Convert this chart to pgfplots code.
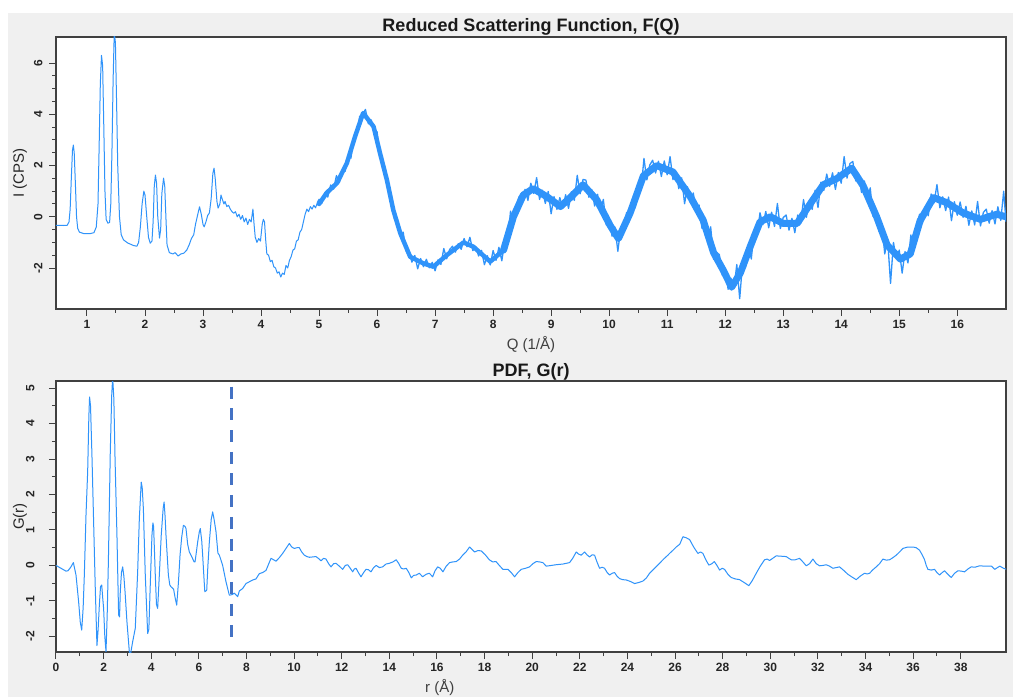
\documentclass[border=0pt]{standalone}
\usepackage{fontspec}
\setmainfont{Liberation Sans}
\usepackage{pgfplots}
\pgfplotsset{compat=1.18}
\definecolor{bg}{HTML}{F0F0F0}
\definecolor{curve}{HTML}{2F93FA}
\definecolor{dashc}{HTML}{4472C4}
\definecolor{framec}{HTML}{404040}
\pgfplotsset{
  pdfstyle/.style={
    scale only axis, width=950pt,
    axis background/.style={fill=white},
    axis line style={framec, line width=1.2pt},
    tick style={framec, line width=1pt},
    tick align=outside, xtick pos=bottom, ytick pos=left,
    major tick length=7pt, minor tick length=4pt,
    tick label style={font=\fontsize{12}{14}\selectfont\bfseries, text=black!85},
    /pgf/number format/assume math mode=true,
    yticklabel style={rotate=90, anchor=south},
    xticklabel shift=1pt,
    title style={font=\fontsize{18}{21}\selectfont\bfseries, text=black!90, at={(0.5,1)}, anchor=base, yshift=-1pt},
    xlabel style={font=\fontsize{15}{17}\selectfont, text=black!75, anchor=base},
    ylabel style={font=\fontsize{15}{17}\selectfont, text=black!85, at={(axis description cs:-0.038,0.5)}, anchor=center},
  }
}
\begin{document}
\begin{tikzpicture}[x=1pt,y=1pt]
\useasboundingbox (0,0) rectangle (1013,697);
\fill[bg] (8,0) rectangle (1013,684);
\begin{axis}[pdfstyle, at={(56pt,388pt)}, anchor=south west, height=272pt,
  xmin=0.466, xmax=16.84, ymin=-3.6, ymax=7.02,
  xtick={1,...,16}, minor x tick num=1,
  ytick={-2,0,2,4,6}, minor y tick num=3,
  yticklabel shift=3pt,
  title={Reduced Scattering Function, F(Q)},
  xlabel={Q (1/Å)}, xlabel style={at={(axis description cs:0.5,0)}, yshift=-41pt},
  ylabel={I (CPS)}]
% clean low-Q part
\addplot[curve, line width=1pt, line join=round] coordinates {
(0.46,-0.33) (0.60,-0.34) (0.66,-0.33) (0.69,-0.2) (0.71,0.3) (0.73,1.5) (0.75,2.6) (0.765,2.8) (0.78,2.5) (0.80,1.3) (0.82,0.0) (0.84,-0.45) (0.87,-0.6) (0.95,-0.66) (1.05,-0.66) (1.12,-0.62) (1.16,-0.4) (1.19,0.5) (1.21,2.8) (1.23,5.2) (1.25,6.3) (1.27,5.9) (1.29,3.5) (1.31,1.0) (1.33,-0.1) (1.36,-0.25) (1.39,-0.22) (1.41,0.5) (1.43,2.5) (1.45,5.3) (1.47,7.2) (1.49,6.8) (1.51,4.5) (1.53,2.0) (1.56,0.0) (1.59,-0.7) (1.63,-0.9) (1.70,-1.02) (1.80,-1.12) (1.86,-1.15) (1.89,-1.0) (1.92,-0.4) (1.95,0.5) (1.98,1.0) (2.00,0.85) (2.03,0.0) (2.06,-0.8) (2.09,-1.03) (2.12,-0.95) (2.14,-0.2) (2.16,1.2) (2.18,1.63) (2.20,1.3) (2.22,0.0) (2.25,-0.83) (2.27,-0.5) (2.29,0.9) (2.32,1.51) (2.34,1.2) (2.36,0.0) (2.38,-1.1) (2.42,-1.4) (2.48,-1.45) (2.52,-1.4) (2.57,-1.53) (2.62,-1.45) (2.67,-1.42) (2.72,-1.3) (2.76,-1.1) (2.80,-0.85) (2.84,-0.7) (2.87,-0.3) (2.91,0.1) (2.94,0.39) (2.97,0.1) (3.00,-0.3) (3.02,-0.39) (3.05,-0.2) (3.08,0.05) (3.11,0.15) (3.14,0.7) (3.17,1.7) (3.19,1.9) (3.21,1.5) (3.24,0.6) (3.26,0.34) (3.29,0.5) (3.31,0.85) (3.33,0.7) (3.36,0.5) (3.38,0.6) (3.41,0.4) (3.44,0.45) (3.47,0.3) (3.50,0.2) (3.53,0.14) (3.56,0.2) (3.59,0.0) (3.62,0.1) (3.65,-0.1) (3.68,0.05) (3.71,-0.2) (3.74,-0.05) (3.77,-0.3) (3.80,-0.1) (3.83,-0.2) (3.86,0.3) (3.88,-0.3) (3.90,-0.8) (3.93,-1.0) (3.96,-0.85) (3.99,-0.95) (4.02,-0.3) (4.04,-0.1) (4.06,-0.2) (4.08,-0.9) (4.10,-1.45) (4.13,-1.5) (4.16,-1.75) (4.19,-1.7) (4.22,-1.95) (4.25,-2.0) (4.28,-2.2) (4.31,-2.15) (4.34,-2.35) (4.37,-2.2) (4.40,-2.25) (4.43,-1.9) (4.46,-2.0) (4.49,-1.7) (4.52,-1.55) (4.55,-1.3) (4.58,-1.25) (4.61,-0.95) (4.64,-0.9) (4.67,-0.6) (4.70,-0.5) (4.73,-0.2) (4.76,0.1) (4.79,0.3) (4.82,0.2) (4.85,0.4) (4.88,0.3) (4.91,0.45) (4.94,0.35) (4.97,0.55)
};
% centre of the dense noise band
\addplot[curve, line width=4.5pt, line join=round, line cap=round] coordinates {
(5.0,0.5) (5.13,0.93) (5.31,1.32) (5.48,2.1) (5.62,3.13) (5.76,4.05) (5.94,3.52) (6.05,2.49) (6.17,1.43) (6.28,0.26) (6.40,-0.64) (6.57,-1.56) (6.79,-1.81) (6.97,-1.95) (7.2,-1.5) (7.49,-1.0) (7.66,-1.17) (7.95,-1.75) (8.18,-1.3)
};
\addplot[curve, line width=7pt, line join=round, line cap=round] coordinates {
(8.18,-1.3) (8.35,0.0) (8.52,0.85) (8.69,1.1) (8.93,0.78) (9.16,0.4) (9.33,0.75) (9.55,1.25) (9.79,0.65) (10.02,-0.35) (10.16,-0.85) (10.36,0.14) (10.59,1.6) (10.82,2.0) (11.1,1.75) (11.4,0.78) (11.62,-0.13) (11.8,-1.4) (11.97,-2.1) (12.11,-2.75) (12.26,-2.2) (12.43,-1.17) (12.6,-0.2) (12.78,0.0) (13.0,-0.26) (13.24,-0.26) (13.47,0.52) (13.69,1.25) (13.93,1.5) (14.18,1.9) (14.38,1.2) (14.61,0.0) (14.79,-1.1) (15.02,-1.65) (15.19,-1.45) (15.36,-0.15) (15.59,0.75) (15.82,0.55) (16.1,0.15) (16.4,-0.1) (16.68,0.1) (16.84,0.0)
};
% noisy signal
\addplot[curve, line width=1.3pt, line join=round] coordinates {
(4.97,0.55) (5.00,0.68) (5.05,0.53) (5.10,0.94) (5.15,0.77) (5.20,1.24) (5.25,1.08) (5.30,1.61) (5.35,1.34) (5.40,1.82) (5.45,1.78) (5.50,2.39) (5.55,2.29) (5.60,3.11) (5.65,3.22) (5.70,3.92) (5.75,4.01) (5.80,4.19) (5.85,3.63) (5.90,3.78) (5.95,3.27) (6.00,3.32) (6.05,2.35) (6.10,2.18) (6.15,1.79) (6.20,0.97) (6.25,0.69) (6.30,-0.09) (6.35,-0.10) (6.40,-0.75) (6.45,-0.60) (6.50,-1.34) (6.55,-1.36) (6.60,-1.77) (6.65,-1.51) (6.70,-2.03) (6.75,-1.63) (6.80,-1.95) (6.85,-1.66) (6.90,-1.99) (6.95,-1.78) (7.00,-2.11) (7.05,-1.68) (7.10,-1.86) (7.15,-1.24) (7.20,-1.64) (7.25,-1.28) (7.30,-1.15) (7.35,-1.38) (7.40,-1.05) (7.45,-1.27) (7.50,-0.85) (7.55,-1.17) (7.60,-0.80) (7.65,-1.32) (7.70,-1.16) (7.75,-1.53) (7.80,-1.31) (7.85,-1.87) (7.90,-1.52) (7.95,-1.88)
(8.00,-1.32) (8.05,-1.70) (8.10,-1.19) (8.15,-1.72) (8.20,-0.97) (8.25,-1.03) (8.30,0.22) (8.35,-0.24) (8.40,0.46) (8.45,0.80) (8.50,0.51) (8.55,1.07) (8.60,0.64) (8.65,1.31) (8.70,0.91) (8.75,1.53) (8.80,0.68) (8.85,1.04) (8.90,0.52) (8.95,0.99) (9.00,0.12) (9.05,0.79) (9.10,0.29) (9.15,0.75) (9.20,0.33) (9.25,0.86) (9.30,0.33) (9.35,0.98) (9.40,0.64) (9.45,1.62) (9.50,0.90) (9.55,1.46) (9.60,1.43) (9.65,0.76) (9.70,1.06) (9.75,0.42) (9.80,0.88) (9.85,0.21) (9.90,0.68) (9.95,-0.32) (10.00,-0.11) (10.05,-0.76) (10.10,-0.40) (10.15,-1.35) (10.20,-0.44) (10.25,-0.61) (10.30,0.17) (10.35,-0.06) (10.40,0.66) (10.45,0.35) (10.50,1.21) (10.55,1.05) (10.60,2.28) (10.65,1.44) (10.70,2.02) (10.75,2.21) (10.80,1.71) (10.85,2.17) (10.90,1.57) (10.95,2.18) (11.00,1.64) (11.05,2.35) (11.10,1.45) (11.15,1.76) (11.20,1.10) (11.25,1.52) (11.30,0.51) (11.35,1.17) (11.40,0.55) (11.45,0.93) (11.50,0.20) (11.55,0.46) (11.60,-0.45) (11.65,-0.14) (11.70,-0.99) (11.75,-0.39) (11.80,-1.66) (11.85,-1.38) (11.90,-1.48) (11.95,-2.28) (12.00,-2.04) (12.05,-2.83) (12.10,-2.40) (12.15,-2.80) (12.20,-1.86) (12.25,-3.20) (12.30,-1.79) (12.35,-1.98) (12.40,-1.09) (12.45,-1.65) (12.50,-0.54) (12.55,-0.72) (12.60,0.16) (12.65,-0.31) (12.70,0.21) (12.75,-0.43) (12.80,0.18) (12.85,-0.38) (12.90,0.52) (12.95,-0.46) (13.00,-0.03) (13.05,0.07) (13.10,-0.52) (13.15,-0.06) (13.20,-0.62) (13.25,0.07) (13.30,-0.26) (13.35,0.67) (13.40,-0.02) (13.45,0.62) (13.50,0.29) (13.55,1.04) (13.60,0.36) (13.65,1.35) (13.70,1.03) (13.75,1.67) (13.80,1.19) (13.85,1.72) (13.90,1.07) (13.95,1.73) (14.00,1.31) (14.05,2.35) (14.10,1.51) (14.15,2.08) (14.20,2.16) (14.25,1.40) (14.30,1.68) (14.35,0.95) (14.40,1.40) (14.45,0.63) (14.50,1.13) (14.55,0.01) (14.60,0.22) (14.65,-0.57) (14.70,-0.29) (14.75,-1.45) (14.80,-0.89) (14.85,-2.60) (14.90,-1.00) (14.95,-1.65) (15.00,-1.30) (15.05,-2.20) (15.10,-1.36) (15.15,-1.80) (15.20,-0.71) (15.25,-1.25) (15.30,-0.38) (15.35,0.10) (15.40,-0.25) (15.45,0.40) (15.50,0.04) (15.55,0.89) (15.60,0.54) (15.65,1.26) (15.70,0.35) (15.75,0.78) (15.80,0.24) (15.85,0.77) (15.90,-0.15) (15.95,0.59) (16.00,0.06) (16.05,0.58) (16.10,-0.02) (16.15,0.41) (16.20,-0.33) (16.25,0.23) (16.30,-0.32) (16.35,0.60) (16.40,-0.36) (16.45,0.17) (16.50,0.30) (16.55,-0.25) (16.60,0.24) (16.65,-0.28) (16.70,0.39) (16.75,-0.14) (16.80,1.00) (16.84,-0.20)
};
\end{axis}
\begin{axis}[pdfstyle, at={(56pt,45pt)}, anchor=south west, height=271pt,
  xmin=0, xmax=39.9, ymin=-2.44, ymax=5.2,
  xtick={0,2,...,38}, minor x tick num=1,
  ytick={-2,-1,0,1,2,3,4,5}, minor y tick num=1,
  yticklabel shift=11pt,
  title={PDF, G(r)},
  xlabel={r (Å)}, xlabel style={at={(axis description cs:0.404,0)}, yshift=-40pt},
  ylabel={G(r)}]
\addplot[curve, line width=1pt, line join=round] coordinates {
(0,0.0) (0.42,-0.16) (0.5,-0.15) (0.62,-0.05) (0.73,0.08) (0.84,-0.27) (0.95,-1.02) (1.02,-1.6) (1.08,-1.82) (1.14,-1.2) (1.19,-0.27) (1.26,1.42) (1.33,2.64) (1.38,4.2) (1.41,4.75) (1.45,4.5) (1.51,3.1) (1.58,1.23) (1.65,-0.65) (1.72,-2.26) (1.77,-1.8) (1.82,-1.12) (1.87,-0.6) (1.92,-0.55) (1.96,-0.9) (2.0,-1.21) (2.05,-2.0) (2.1,-2.43) (2.15,-1.4) (2.2,0.1) (2.28,3.2) (2.34,4.8) (2.38,5.3) (2.43,4.7) (2.48,3.0) (2.56,0.85) (2.63,-1.4) (2.67,-1.45) (2.7,-0.74) (2.75,-0.2) (2.8,-0.04) (2.85,-0.3) (2.9,-0.74) (2.98,-1.59) (3.08,-2.43) (3.13,-2.5) (3.22,-2.15) (3.33,-1.77) (3.43,-0.18) (3.5,1.32) (3.58,2.35) (3.62,2.2) (3.67,1.6) (3.75,-0.27) (3.85,-1.92) (3.9,-1.8) (3.95,-0.74) (4.03,0.85) (4.07,1.2) (4.1,1.1) (4.17,-0.27) (4.22,-1.1) (4.27,-1.21) (4.34,-0.27) (4.42,0.85) (4.5,1.6) (4.54,1.79) (4.58,1.4) (4.62,0.85) (4.72,-0.27) (4.78,-0.55) (4.83,-0.6) (4.94,-0.67) (5.0,-0.9) (5.07,-1.12) (5.14,-0.5) (5.21,0.29) (5.28,0.8) (5.35,1.13) (5.42,1.1) (5.46,1.04) (5.53,0.6) (5.6,0.38) (5.7,0.25) (5.8,0.1) (5.84,0.1) (5.9,0.4) (5.95,0.66) (6.02,0.95) (6.06,1.04) (6.12,0.7) (6.16,0.29) (6.21,-0.3) (6.25,-0.74) (6.33,-0.7) (6.38,0.0) (6.44,0.66) (6.52,1.3) (6.58,1.51) (6.64,1.3) (6.72,0.95) (6.8,0.35) (6.86,0.29) (6.93,0.15) (7.0,0.0) (7.14,-0.46) (7.28,-0.84) (7.4,-0.82) (7.49,-0.78) (7.63,-0.88) (7.7,-0.72) (7.84,-0.65) (7.98,-0.51) (8.12,-0.46) (8.26,-0.41) (8.4,-0.38) (8.54,-0.23) (8.68,-0.2) (8.82,-0.14) (9.03,0.2) (9.14,0.16) (9.24,0.12) (9.38,0.22) (9.52,0.34) (9.66,0.48) (9.8,0.62) (9.9,0.52) (10.01,0.48) (10.12,0.5) (10.22,0.5) (10.32,0.38) (10.43,0.29) (10.54,0.25) (10.64,0.23) (10.78,0.24) (10.92,0.25) (11.02,0.2) (11.13,0.13) (11.24,0.2) (11.34,0.18) (11.45,0.05) (11.55,-0.04) (11.66,0.05) (11.76,0.06) (11.9,-0.02) (12.04,-0.11) (12.15,0.0) (12.25,0.02) (12.36,-0.08) (12.46,-0.18) (12.53,-0.1) (12.6,-0.08) (12.7,-0.2) (12.81,-0.32) (12.92,-0.2) (13.02,-0.11) (13.12,-0.12) (13.23,-0.18) (13.34,-0.06) (13.45,0.0) (13.58,-0.06) (13.72,-0.04) (13.86,0.04) (14.0,0.06) (14.15,0.1) (14.29,0.16) (14.4,0.05) (14.5,-0.08) (14.6,-0.1) (14.71,-0.08) (14.82,-0.2) (14.92,-0.35) (15.02,-0.28) (15.13,-0.27) (15.26,-0.22) (15.4,-0.32) (15.54,-0.25) (15.68,-0.22) (15.82,-0.32) (15.92,-0.15) (16.03,-0.04) (16.14,-0.08) (16.25,-0.18) (16.39,-0.02) (16.53,0.08) (16.67,0.1) (16.81,0.11) (16.95,0.18) (17.08,0.29) (17.22,0.38) (17.37,0.52) (17.48,0.45) (17.58,0.38) (17.72,0.42) (17.86,0.41) (18.03,0.3) (18.2,0.16) (18.34,0.1) (18.48,0.11) (18.62,0.0) (18.77,-0.11) (18.98,-0.11) (19.12,-0.2) (19.26,-0.32) (19.4,-0.2) (19.54,-0.11) (19.72,-0.08) (19.89,-0.04) (20.03,0.05) (20.17,0.11) (20.31,0.1) (20.45,0.08) (20.59,-0.02) (20.8,0.0) (21.0,0.02) (21.15,0.03) (21.29,0.04) (21.43,0.06) (21.57,0.08) (21.7,0.2) (21.85,0.38) (21.95,0.32) (22.06,0.29) (22.2,0.38) (22.3,0.3) (22.41,0.24) (22.52,0.3) (22.62,0.29) (22.72,0.1) (22.83,-0.08) (22.94,-0.05) (23.04,-0.08) (23.15,-0.2) (23.25,-0.27) (23.36,-0.22) (23.46,-0.2) (23.56,-0.3) (23.67,-0.37) (23.8,-0.4) (23.95,-0.41) (24.12,-0.45) (24.3,-0.51) (24.48,-0.48) (24.65,-0.44) (24.8,-0.35) (24.93,-0.22) (25.14,-0.08) (25.35,0.06) (25.52,0.18) (25.7,0.29) (25.77,0.34) (25.9,0.42) (26.05,0.52) (26.2,0.6) (26.33,0.81) (26.47,0.78) (26.61,0.73) (26.8,0.5) (26.96,0.34) (27.07,0.38) (27.17,0.34) (27.3,0.15) (27.42,0.01) (27.55,0.05) (27.65,0.11) (27.76,0.0) (27.87,-0.13) (27.98,-0.08) (28.08,-0.11) (28.22,-0.25) (28.36,-0.34) (28.53,-0.38) (28.71,-0.4) (28.9,-0.48) (29.1,-0.57) (29.25,-0.42) (29.41,-0.22) (29.58,-0.02) (29.76,0.16) (29.87,0.18) (29.97,0.14) (30.1,0.2) (30.25,0.27) (30.46,0.26) (30.67,0.25) (30.78,0.2) (30.88,0.16) (31.05,0.16) (31.23,0.2) (31.37,0.1) (31.51,-0.01) (31.65,0.05) (31.79,0.18) (31.93,0.05) (32.07,-0.01) (32.21,0.0) (32.35,0.02) (32.49,-0.02) (32.63,-0.08) (32.77,-0.06) (32.91,-0.04) (33.1,-0.15) (33.26,-0.25) (33.44,-0.33) (33.61,-0.4) (33.78,-0.3) (33.96,-0.22) (34.07,-0.24) (34.17,-0.22) (34.31,-0.12) (34.45,-0.04) (34.59,0.05) (34.73,0.18) (34.87,0.15) (35.01,0.16) (35.15,0.22) (35.29,0.29) (35.43,0.38) (35.57,0.48) (35.78,0.52) (35.99,0.52) (36.13,0.5) (36.27,0.43) (36.38,0.3) (36.48,0.16) (36.55,0.0) (36.62,-0.11) (36.76,-0.13) (36.9,-0.11) (37.0,-0.2) (37.11,-0.27) (37.22,-0.2) (37.32,-0.15) (37.46,-0.25) (37.6,-0.34) (37.74,-0.22) (37.88,-0.15) (38.02,-0.16) (38.16,-0.18) (38.3,-0.1) (38.44,-0.04) (38.6,-0.05) (38.79,-0.01) (39.0,-0.02) (39.15,-0.02) (39.29,-0.02) (39.43,-0.11) (39.54,-0.06) (39.64,-0.02) (39.8,-0.08) (39.92,-0.11)
};
\addplot[dashc, line width=3pt, dash pattern=on 12pt off 9.7pt] coordinates {(7.35,5.04) (7.35,-2.28)};
\end{axis}
\end{tikzpicture}
\end{document}
